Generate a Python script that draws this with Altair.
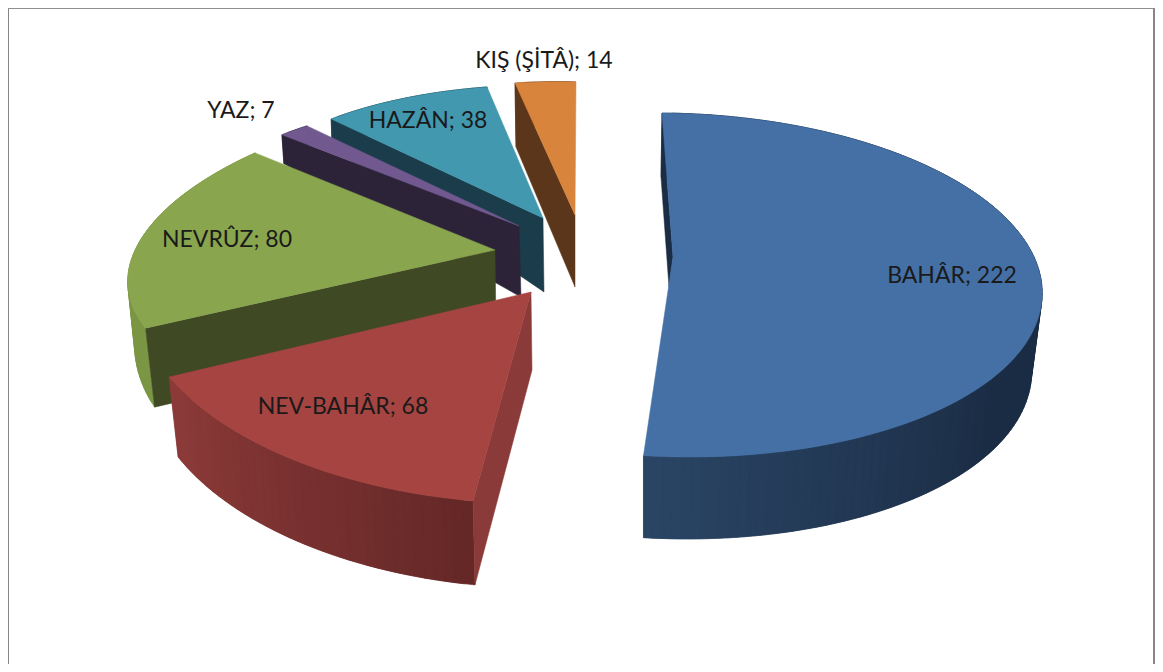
import math
import altair as alt
import pandas as pd

names = ["BAHÂR", "NEV-BAHÂR", "NEVRÛZ", "YAZ", "HAZÂN", "KIŞ (ŞİTÂ)"]
counts = [222, 68, 80, 7, 38, 14]

# label centres in page pixels
label_x = [952, 343, 227, 241, 428, 544]
label_y = [276, 407, 240, 111, 121, 61]

top_colors = ["#4470a6", "#a64441", "#89a54e", "#71588f", "#4198af", "#d9843c"]
wall_colors = ["#1b2d45", "#8a3a38", "#3f4923", "#2d2339", "#1b3d4b", "#5b361a"]
side_from = ["#1b2d45", "#652827", "#7b9644", "#2d2339", "#1b3d4b", "#5b361a"]
side_to = ["#2a4565", "#8d3b39", "#7b9644", "#2d2339", "#1b3d4b", "#5b361a"]
ramp_start = [0.65, 0, 0, 0, 0, 0]

# per-slice ellipse centre, wedge tip, ellipse form and extrusion (the 3D pie's perspective)
center = [(673, 285), (531, 292), (495, 250), (519, 226), (543, 218), (575, 215)]
tip = [(673, 257), (531, 292), (495, 250), (519, 226), (543, 218), (575, 215)]
ellipse = [  # a, b, kx, ky
    (369, 172, -11, 3),
    (397.6, 211.4, 14.5, 11),
    (363, 158.7, 55.8, -7.8),
    (332, 129, 23.7, 9.8),
    (316, 133, 8.6, 4),
    (299.5, 133, 1, 8.8),
]
depth = [  # tip, start, end, bulge
    (30, 64, 82, 5),
    (78, 84, 80, 0),
    (78, 79, 30, 0),
    (71, 29, 25, 0),
    (74, 29, 25, 0),
    (72, 64, 0, 0),
]
shift = [  # tip, start, end, bulge
    (-4, -1, 0, -10),
    (1, 2, 9, 0),
    (1, 9, 1, 0),
    (2, 2, 2, 0),
    (1, 1, 1, 0),
    (0, 1, 0, 0),
]
draw_order = [5, 4, 3, 2, 1, 0]

W, H, M = 1147, 656, 8
total = sum(counts)
bounds = [0.0]
for c in counts:
    bounds.append(bounds[-1] + 360.0 * c / total)


def rim(i, deg):
    s, c = math.sin(math.radians(deg)), math.cos(math.radians(deg))
    a, b, kx, ky = ellipse[i]
    ax, ay = center[i]
    return (ax + a * s + kx * c - M, ay - b * c + ky * s - M)


def mix(c0, c1, f):
    p = [int(c0[j:j + 2], 16) for j in (1, 3, 5)]
    q = [int(c1[j:j + 2], 16) for j in (1, 3, 5)]
    return "#" + "".join(f"{round(u + (v - u) * f):02x}" for u, v in zip(p, q))


def feature(points, color):
    ring = [list(p) for p in points] + [list(points[0])]
    return {"type": "Feature", "properties": {"c": color},
            "geometry": {"type": "Polygon", "coordinates": [ring]}}


features = []
for i in draw_order:
    t0, t1 = bounds[i], bounds[i + 1]
    d_a, d_0, d_1, d_b = depth[i]
    s_a, s_0, s_1, s_b = shift[i]
    steps = max(4, int((t1 - t0) / 1.5))
    ts = [t0 + (t1 - t0) * k / steps for k in range(steps + 1)]

    def low(k):
        f = k / steps
        x, y = rim(i, ts[k])
        bump = math.sin(math.pi * f)
        return (x + s_0 + (s_1 - s_0) * f + s_b * bump,
                y + d_0 + (d_1 - d_0) * f + d_b * bump)

    for k in range(steps):
        e = min(k + 2, steps)
        f = max(0.0, (k / steps - ramp_start[i]) / (1 - ramp_start[i]))
        features.append(feature([rim(i, ts[j]) for j in range(k, e + 1)]
                                + [low(j) for j in range(e, k - 1, -1)],
                                mix(side_from[i], side_to[i], f)))
    ax, ay = tip[i][0] - M, tip[i][1] - M
    features.append(feature([(ax, ay), rim(i, t0), low(0), (ax + s_a, ay + d_a)], wall_colors[i]))
    features.append(feature([(ax, ay)] + [rim(i, t) for t in ts], top_colors[i]))

pie = (
    alt.Chart(alt.InlineData(values={"type": "FeatureCollection", "features": features},
                             format=alt.DataFormat(property="features", type="json")))
    .mark_geoshape(strokeWidth=0.5)
    .encode(fill=alt.Fill("properties.c:N", scale=None, legend=None),
            stroke=alt.Stroke("properties.c:N", scale=None, legend=None))
    .project(type="identity", scale=1, translate=[0, 0])
)

labels = pd.DataFrame({
    "t": [f"{n}; {v}" for n, v in zip(names, counts)],
    "x": [x - M for x in label_x],
    "y": [y - M for y in label_y],
})
text = (
    alt.Chart(labels)
    .mark_text(font="Lato", fontSize=23, color="#1a1a1a", baseline="middle", align="center")
    .encode(x=alt.X("x:Q", scale=None, axis=None), y=alt.Y("y:Q", scale=None, axis=None), text="t:N")
)

one = pd.DataFrame({"k": [0]})
left = alt.Chart(one).mark_rule(color="#868686", strokeWidth=1).encode(
    x=alt.value(0.5), y=alt.value(0), y2=alt.value(H))
top = alt.Chart(one).mark_rule(color="#8f8f8f", strokeWidth=1).encode(
    y=alt.value(0.5), x=alt.value(0), x2=alt.value(W))
right = alt.Chart(one).mark_rule(color="#868686", strokeWidth=2).encode(
    x=alt.value(W - 1), y=alt.value(0), y2=alt.value(H))

chart = (
    alt.layer(pie, text, left, top, right)
    .properties(width=W, height=H, padding=0, autosize=alt.AutoSizeParams(type="none"), background="white")
    .configure_view(stroke=None)
)
chart.save("out.html", embed_options={"renderer": "svg", "actions": False})
